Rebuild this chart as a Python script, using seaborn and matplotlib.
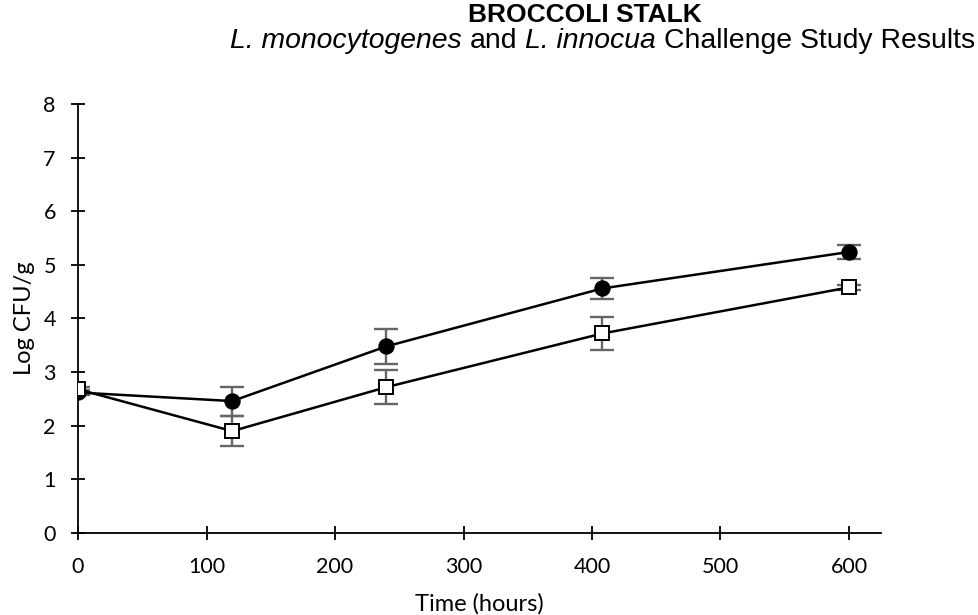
import matplotlib
matplotlib.use("Agg")
import matplotlib.pyplot as plt
import seaborn as sns

# Storage time (hours) and log counts (mean, SD) for each organism
hours = [0, 120, 240, 408, 600]
lm_mean = [2.62, 2.46, 3.48, 4.56, 5.24]
lm_sd = [0.05, 0.27, 0.33, 0.19, 0.13]
li_mean = [2.68, 1.90, 2.72, 3.72, 4.58]
li_sd = [0.05, 0.28, 0.32, 0.30, 0.05]

x_ticks = [0, 100, 200, 300, 400, 500, 600]
y_ticks = [0, 1, 2, 3, 4, 5, 6, 7, 8]

title_text = "BROCCOLI STALK"
subtitle_parts = [("L. monocytogenes", "italic"), ("and", "normal"),
                  ("L. innocua", "italic"), ("Challenge Study Results", "normal")]

sns.set_theme(style="white")
plt.rcParams["font.family"] = ["Lato", "DejaVu Sans"]

fig, ax = plt.subplots(figsize=(9.79, 6.15), dpi=100)
fig.subplots_adjust(left=0.0797, right=0.900, bottom=0.1333, top=0.831)

err_kw = dict(fmt="none", ecolor="#666666", elinewidth=1.7, capsize=8.5,
              capthick=1.7, zorder=1.5)
ax.errorbar(hours, lm_mean, yerr=lm_sd, **err_kw)
ax.errorbar(hours, li_mean, yerr=li_sd, **err_kw)

sns.lineplot(x=hours, y=lm_mean, ax=ax, color="black", linewidth=1.8,
             marker="o", markersize=11, markerfacecolor="black",
             markeredgecolor="black", errorbar=None, zorder=3)
sns.lineplot(x=hours, y=li_mean, ax=ax, color="black", linewidth=1.8,
             marker="s", markersize=10.5, markerfacecolor="white",
             markeredgecolor="black", markeredgewidth=1.4, errorbar=None,
             zorder=4)

ax.set_xlim(0, 625)
ax.set_ylim(0, 8)
ax.set_xticks(x_ticks)
ax.set_yticks(y_ticks)
ax.set_xticklabels([str(t) for t in x_ticks])
ax.set_yticklabels([str(t) for t in y_ticks])

for side in ("top", "right"):
    ax.spines[side].set_visible(False)
for side in ("left", "bottom"):
    ax.spines[side].set_color("black")
    ax.spines[side].set_linewidth(1.3)

ax.tick_params(axis="both", which="major", bottom=True, left=True,
               direction="inout", length=10, width=1.3, color="black",
               labelsize=15.5, labelcolor="black")
ax.tick_params(axis="y", pad=11)
ax.tick_params(axis="x", pad=12)

ax.set_xlabel("Time (hours)", fontsize=17, color="black", labelpad=12)
ax.set_ylabel("Log CFU/g", fontsize=17, color="black", labelpad=6)

# Chart title
fig.text(585 / 979, 1 - 15 / 615, title_text, ha="center", va="center",
         fontsize=19, fontweight="bold", family="Liberation Sans",
         color="black")

# Subtitle with italic species names, laid out piece by piece and
# right-aligned to the figure edge
renderer = fig.canvas.get_renderer()
sub_kw = dict(fontsize=20.4, family="Liberation Sans", color="black",
              va="center", ha="left")
sub_y = 1 - 41 / 615
probe = fig.text(0, 0, "a a", **sub_kw)
w_two = probe.get_window_extent(renderer).width
probe.set_text("aa")
space_px = w_two - probe.get_window_extent(renderer).width
probe.remove()

pieces = []
x_px = 0.0
for i, (txt, style) in enumerate(subtitle_parts):
    t = fig.text(0, sub_y, txt, style=style, **sub_kw)
    w = t.get_window_extent(renderer).width
    pieces.append((t, x_px))
    x_px += w + (space_px if i < len(subtitle_parts) - 1 else 0)
right_px = 975.0
start_px = right_px - x_px
for t, off in pieces:
    t.set_x((start_px + off) / fig.bbox.width)

fig.savefig("out.png", dpi=100)
